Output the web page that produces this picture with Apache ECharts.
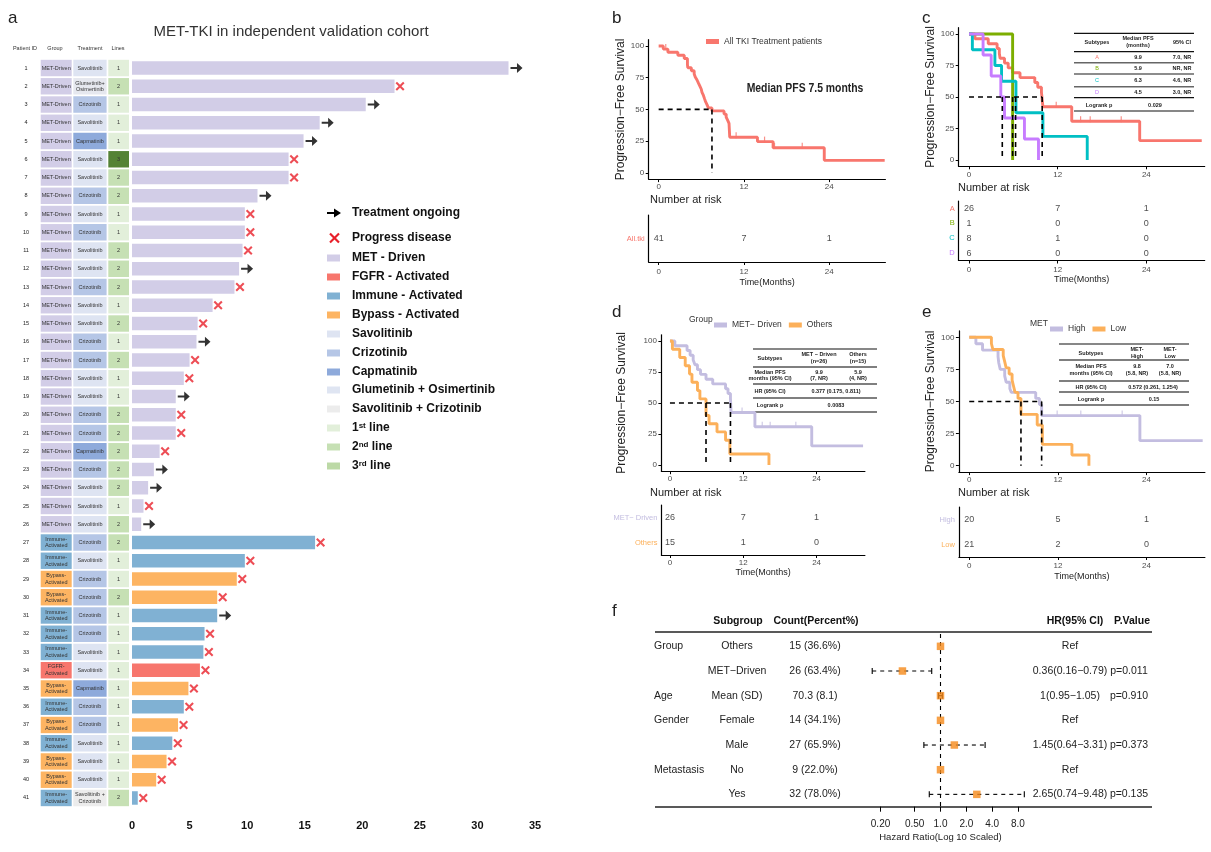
<!DOCTYPE html>
<html><head><meta charset="utf-8">
<script src="https://cdn.jsdelivr.net/npm/echarts@6/dist/echarts.min.js"></script>
<style>html,body{margin:0;padding:0;background:#fff}#c{width:1211px;height:852px}</style>
</head><body><div id="c"></div>
<script>
const FONT = '"Liberation Sans", Arial, Helvetica, sans-serif';

// ---------- Panel a data ----------
const patientIds = ['1','2','3','4','5','6','7','8','9','10','11','12','13','14','15','16','17','18','19','20','21','22','23','24','25','26','27','28','29','30','31','32','33','34','35','36','37','38','39','40','41'];
const pfsMonths = [32.7,22.8,20.3,16.3,14.9,13.6,13.6,10.9,9.8,9.8,9.6,9.3,8.9,7.0,5.7,5.6,5.0,4.5,3.8,3.8,3.8,2.4,1.9,1.4,1.0,0.8,15.9,9.8,9.1,7.4,7.4,6.3,6.2,5.9,4.9,4.5,4.0,3.5,3.0,2.1,0.5];
const outcome = ['O','P','O','O','O','P','P','O','P','P','P','O','P','P','P','O','P','P','O','P','P','P','O','O','P','O','P','P','P','P','O','P','P','P','P','P','P','P','P','P','P'];
const groups = ['MET-Driven','MET-Driven','MET-Driven','MET-Driven','MET-Driven','MET-Driven','MET-Driven','MET-Driven','MET-Driven','MET-Driven','MET-Driven','MET-Driven','MET-Driven','MET-Driven','MET-Driven','MET-Driven','MET-Driven','MET-Driven','MET-Driven','MET-Driven','MET-Driven','MET-Driven','MET-Driven','MET-Driven','MET-Driven','MET-Driven',
 'Immune-Activated','Immune-Activated','Bypass-Activated','Bypass-Activated','Immune-Activated','Immune-Activated','Immune-Activated','FGFR-Activated','Bypass-Activated','Immune-Activated','Bypass-Activated','Immune-Activated','Bypass-Activated','Bypass-Activated','Immune-Activated'];
const treatments = ['Savolitinib','Glumetinib + Osimertinib','Crizotinib','Savolitinib','Capmatinib','Savolitinib','Savolitinib','Crizotinib','Savolitinib','Crizotinib','Savolitinib','Savolitinib','Crizotinib','Savolitinib','Savolitinib','Crizotinib','Crizotinib','Savolitinib','Savolitinib','Crizotinib','Crizotinib','Capmatinib','Crizotinib','Savolitinib','Savolitinib','Savolitinib',
 'Crizotinib','Savolitinib','Crizotinib','Crizotinib','Crizotinib','Crizotinib','Savolitinib','Savolitinib','Capmatinib','Crizotinib','Crizotinib','Savolitinib','Savolitinib','Savolitinib','Savolitinib + Crizotinib'];
const lines = [1,2,1,1,1,3,2,2,1,1,2,2,2,1,2,1,2,1,1,2,2,2,2,2,1,2,2,1,1,2,1,1,1,1,1,1,1,1,1,1,2];
const aTicks = [0,35,5];

const groupColor = {'MET-Driven':'#d2cde7','FGFR-Activated':'#f7766d','Immune-Activated':'#80b1d3','Bypass-Activated':'#fdb462'};
const groupLabel = {'MET-Driven':'MET-Driven','FGFR-Activated':'FGFR-\nActivated','Immune-Activated':'Immune-\nActivated','Bypass-Activated':'Bypass-\nActivated'};
const treatColor = {'Savolitinib':'#dee4f2','Crizotinib':'#b5c6e6','Capmatinib':'#8eaadb','Glumetinib + Osimertinib':'#e6e8ef','Savolitinib + Crizotinib':'#ececec'};
const treatLabel = {'Glumetinib + Osimertinib':'Glumetinib+\nOsimertinib','Savolitinib + Crizotinib':'Savolitinib +\nCrizotinib'};
const lineColor = {1:'#e2efda',2:'#c6e0b4',3:'#548235'};

// ---------- KM data (time, survival %) ----------
const kmAll = [[0,100],[0.65,97.6],[1.3,95.1],[2.7,92.7],[3.6,90.2],[4.05,85.4],[4.1,82.9],[4.6,80.5],[5.0,78.0],[5.15,75.6],[5.4,73.2],[5.6,70.7],[5.8,68.3],[6.0,65.9],[6.1,63.4],[6.3,61.0],[6.45,58.5],[6.6,56.1],[6.8,53.7],[7.0,51.2],[7.5,48.8],[9.2,46.3],[9.5,43.9],[9.7,41.5],[9.9,39.0],[10.0,28.0],[13.9,24.6],[16.1,19.7],[23.3,9.8],[31.8,9.8]];
const kmAllCensor = [[1.0,97.6],[10.9,28.0],[14.9,24.6],[16.3,19.7],[20.2,19.7]];
const kmA = [[0,100],[0.8,96.2],[2.6,92.3],[3.8,88.5],[4.1,84.6],[4.2,80.8],[4.8,76.9],[5.3,73.1],[5.9,69.2],[6.9,65.4],[8.9,61.5],[9.3,57.7],[9.8,53.8],[10.0,42.3],[13.9,30.8],[23.1,15.4],[31.5,15.4]];
const kmB = [[0,100],[5.9,0]];
const kmC = [[0,100],[0.45,87.5],[3.5,75],[4.4,62.5],[6.35,37.5],[10.0,18.75],[16.0,0]];
const kmD = [[0,100],[1.9,83.3],[3.0,66.7],[4.3,50],[4.8,33.3],[7.5,16.7],[9.4,0]];
const kmACensor = [[11.8,42.3],[15.1,30.8],[16.4,30.8],[20.6,30.8]];
const kmMet = [[0,100],[0.8,96.2],[2.8,92.3],[3.3,88.5],[3.8,84.6],[4.1,80.8],[4.5,76.9],[5.0,73.1],[5.9,69.2],[7.0,65.4],[9.1,61.5],[9.5,57.7],[9.9,53.8],[10.0,42.3],[13.9,30.8],[23.2,15.4],[31.6,15.4]];
const kmOthers = [[0,100],[0.4,93.3],[1.6,86.7],[2.5,80],[3.2,73.3],[3.6,66.7],[4.5,60],[4.9,53.3],[5.9,40],[6.4,33.3],[7.7,26.7],[9.1,20],[9.8,8.9],[16.2,0]];
const kmHigh = [[0,100],[0.9,95],[1.8,90],[3.9,85],[4.0,80],[4.2,75],[4.8,70],[5.0,65],[5.5,60],[5.7,57.1],[9.0,52.4],[9.5,47.6],[9.8,39.0],[23.1,19.5],[31.6,19.5]];
const kmHighCensor = [[11.9,39],[15.1,39],[20.7,39]];
const kmLow = [[0,100],[3.0,95.2],[3.2,90.5],[4.6,85.7],[4.8,81],[5.0,76.2],[5.4,71.4],[5.8,66.7],[6.0,61.9],[6.2,57.1],[6.6,52.4],[7.0,40.0],[9.2,31.7],[9.9,16.6],[13.9,8.3],[16.2,0]];
const medB = [7.5], medC = [4.5,5.9,6.3,9.9], medD = [5.9,9.9], medE = [7.0,9.8];
const kmXTicks = [0,12,24];
const kmYTicks = [0,25,50,75,100];

// risk tables
const riskTimes = [0,12,24];
const riskRowsB = ['All.tki'];   const riskB = [[41,7,1]];
const riskRowsC = ['A','B','C','D']; const riskC = [[26,7,1],[1,0,0],[8,1,0],[6,0,0]];
const riskRowsD = ['MET\u2212 Driven','Others']; const riskD = [[26,7,1],[15,1,0]];
const riskRowsE = ['High','Low']; const riskE = [[20,5,1],[21,2,0]];

// ---------- forest (panel f) ----------
const fGroup = ['Group','','Age','Gender','','Metastasis',''];
const fSubgroup = ['Others','MET\u2212Driven','Mean (SD)','Female','Male','No','Yes'];
const fCount = ['15 (36.6%)','26 (63.4%)','70.3 (8.1)','14 (34.1%)','27 (65.9%)','9 (22.0%)','32 (78.0%)'];
const fHr = [1,0.36,1,1,1.45,1,2.65];
const fLo = [null,0.16,0.95,null,0.64,null,0.74];
const fHi = [null,0.79,1.05,null,3.31,null,9.48];
const fHrText = ['Ref','0.36(0.16\u22120.79)','1(0.95\u22121.05)','Ref','1.45(0.64\u22123.31)','Ref','2.65(0.74\u22129.48)'];
const fP = ['','p=0.011','p=0.910','','p=0.373','','p=0.135'];
const fTicks = [0.2,0.5,1,2,4,8];

// ---------- colours ----------
const RED='#f8766d', GREEN='#7cae00', CYAN='#00bfc4', PURPLE='#c77cff', LAV='#c3bde0', ORG='#fcb05a';

const chart = echarts.init(document.getElementById('c'), null, {renderer:'canvas'});
const XMIN=-1.4, XMAX=31.9;

const grids = [
 {left:132, top:58.9, width:403, height:748.2},
 {left:648.7, top:39.7, width:236.7, height:139.4},
 {left:648.7, top:215, width:236.7, height:47},
 {left:958.7, top:27.7, width:246, height:138.6},
 {left:958.7, top:201, width:246, height:59.5},
 {left:661.4, top:334.8, width:203.5, height:136.4},
 {left:661.4, top:505, width:203.5, height:50},
 {left:958.9, top:330.9, width:246, height:141.2},
 {left:958.9, top:507, width:246, height:50},
 {left:854.7, top:634, width:171.6, height:172.7}
];

const axLine = {show:true, onZero:false, lineStyle:{color:'#000', width:1.2}};
function kmX(g, margin){ return {gridIndex:g, type:'value', min:XMIN, max:XMAX, axisLine:axLine,
  axisTick:{show:true, length:3, lineStyle:{color:'#000'}, customValues:kmXTicks},
  axisLabel:{customValues:kmXTicks, fontSize:8, color:'#4d4d4d', margin:margin, fontFamily:FONT}, splitLine:{show:false}}; }
function kmY(g, gap){ return {gridIndex:g, type:'value', min:-5, max:105, axisLine:axLine,
  axisTick:{show:true, length:3, lineStyle:{color:'#000'}, customValues:kmYTicks},
  axisLabel:{customValues:kmYTicks, fontSize:8, color:'#4d4d4d', margin:4.5, fontFamily:FONT}, splitLine:{show:false},
  name:'Progression\u2212Free Survival', nameLocation:'middle', nameGap:gap, nameTextStyle:{fontSize:12, color:'#222', fontFamily:FONT}}; }
function riskX(g, margin, gap){ const a = kmX(g, margin); a.name='Time(Months)'; a.nameLocation='middle'; a.nameGap=gap; a.nameTextStyle={fontSize:9, color:'#222', fontFamily:FONT}; return a; }
function riskY(g, rows, colors){ return {gridIndex:g, type:'category', data:rows, inverse:true, axisLine:axLine, axisTick:{show:false},
  axisLabel:{fontSize:7.5, margin:4, fontFamily:FONT, color:(v,i)=>colors[i]}}; }

const xAxes = [
 {gridIndex:0, type:'value', min:aTicks[0], max:aTicks[1], interval:aTicks[2], axisLine:{show:false}, axisTick:{show:false}, splitLine:{show:false},
  axisLabel:{fontSize:11, fontWeight:'bold', color:'#111', margin:13, fontFamily:FONT}},
 kmX(1,4), riskX(2,6,16.5), kmX(3,4), riskX(4,5.5,13), kmX(5,4), riskX(6,4,13), kmX(7,4), riskX(8,5,15),
 {gridIndex:9, type:'log', logBase:10, min:0.1, max:10, axisLine:{show:false},
  axisTick:{show:true, length:5, lineStyle:{color:'#000'}, customValues:fTicks},
  axisLabel:{customValues:fTicks, formatter:v=> v<1 ? Number(v).toFixed(2) : Number(v).toFixed(1), fontSize:10, color:'#222', margin:13, fontFamily:FONT},
  splitLine:{show:false}, name:'Hazard Ratio(Log 10 Scaled)', nameLocation:'middle', nameGap:26, nameTextStyle:{fontSize:9.5, color:'#222', fontFamily:FONT}}
];
const yAxes = [
 {gridIndex:0, type:'category', data:patientIds, inverse:true, show:false},
 kmY(1,22), riskY(2,riskRowsB,[RED]), kmY(3,22), riskY(4,riskRowsC,[RED,GREEN,CYAN,PURPLE]),
 kmY(5,34), riskY(6,riskRowsD,[LAV,ORG]), kmY(7,22), riskY(8,riskRowsE,[LAV,ORG]),
 {gridIndex:9, type:'category', data:fSubgroup, inverse:true, show:false}
];

const ARROW = 'path://M0,4L7,4L7,0L13,5L7,10L7,6L0,6Z';
const CROSS = 'path://M0,1.6L1.6,0L5,3.4L8.4,0L10,1.6L6.6,5L10,8.4L8.4,10L5,6.6L1.6,10L0,8.4L3.4,5Z';

const series = [];
// panel a table cells
series.push({type:'custom', xAxisIndex:0, yAxisIndex:0, silent:true, clip:false,
 data: patientIds.map((id,i)=>[0,i]),
 renderItem(params, api){
  const i = params.dataIndex;
  const pt = api.coord([0, api.value(1)]);
  const x0 = pt[0], cy = pt[1];
  const h = api.size([0,1])[1]*0.9;
  const ch = [];
  const tx = (text,x,fill)=>({type:'text', style:{text, x, y:cy, align:'center', verticalAlign:'middle', fontSize:5.5, lineHeight:6.5, fill:fill||'#333', fontFamily:FONT}});
  const cell = (x,w,fill,text)=>{ ch.push({type:'rect', shape:{x:x0+x, y:cy-h/2, width:w, height:h}, style:{fill}}); ch.push(tx(text, x0+x+w/2)); };
  ch.push(tx(patientIds[i], x0-106, '#222'));
  cell(-91.3, 31, groupColor[groups[i]], groupLabel[groups[i]]);
  cell(-58.7, 33.3, treatColor[treatments[i]], treatLabel[treatments[i]] || treatments[i]);
  cell(-23.7, 20.7, lineColor[lines[i]], String(lines[i]));
  return {type:'group', children:ch};
 }});
series.push({type:'bar', xAxisIndex:0, yAxisIndex:0, barWidth:13.5, silent:true,
 data: pfsMonths.map((v,i)=>({value:v, itemStyle:{color:groupColor[groups[i]]}}))});
series.push({type:'scatter', xAxisIndex:0, yAxisIndex:0, silent:true, symbol:ARROW, symbolSize:[12,10], symbolOffset:[8,0], itemStyle:{color:'#000'},
 data: pfsMonths.map((v,i)=>[v,i,outcome[i]]).filter(d=>d[2]==='O')});
series.push({type:'scatter', xAxisIndex:0, yAxisIndex:0, silent:true, symbol:CROSS, symbolSize:[9,9], symbolOffset:[5.5,0], itemStyle:{color:'#e8202a'},
 data: pfsMonths.map((v,i)=>[v,i,outcome[i]]).filter(d=>d[2]==='P')});

function km(name, data, color, xi){ return {name, type:'line', xAxisIndex:xi, yAxisIndex:xi, step:'end', data, showSymbol:false, symbol:'none',
  lineStyle:{color, width:2.9}, itemStyle:{color}, silent:true, z:3, animation:false}; }
function censor(data, color, xi){ return {type:'scatter', xAxisIndex:xi, yAxisIndex:xi, data, symbol:'rect', symbolSize:[1.2,6], symbolOffset:[0,-2], itemStyle:{color}, silent:true, z:3}; }
function medians(xi, meds){ const dash = {color:'#000', width:1.6, type:[5,4]};
  const out = [{type:'line', xAxisIndex:xi, yAxisIndex:xi, data:[[0,50],[Math.max(...meds),50]], symbol:'none', lineStyle:dash, silent:true, z:4}];
  meds.forEach(m=>out.push({type:'line', xAxisIndex:xi, yAxisIndex:xi, data:[[m,50],[m,0]], symbol:'none', lineStyle:dash, silent:true, z:4}));
  return out; }
function risk(xi, rows, counts){ const data=[]; rows.forEach((r,ri)=>riskTimes.forEach((t,ti)=>data.push([t,r,counts[ri][ti]])));
  return {type:'scatter', xAxisIndex:xi, yAxisIndex:xi, data, symbolSize:1, itemStyle:{color:'rgba(0,0,0,0)'}, silent:true,
   label:{show:true, position:'inside', formatter:p=>String(p.value[2]), fontSize:9, color:'#222', fontFamily:FONT}}; }

// b
series.push(km('All TKI Treatment patients', kmAll, RED, 1), censor(kmAllCensor, RED, 1), ...medians(1, medB), risk(2, riskRowsB, riskB));
// c
series.push(km('A', kmA, RED, 3), km('B', kmB, GREEN, 3), km('C', kmC, CYAN, 3), km('D', kmD, PURPLE, 3), censor(kmACensor, RED, 3), ...medians(3, medC), risk(4, riskRowsC, riskC));
// d
series.push(km('MET\u2212 Driven', kmMet, LAV, 5), km('Others', kmOthers, ORG, 5), censor(kmACensor, LAV, 5), ...medians(5, medD), risk(6, riskRowsD, riskD));
// e
series.push(km('High', kmHigh, LAV, 7), km('Low', kmLow, ORG, 7), censor(kmHighCensor, LAV, 7), ...medians(7, medE), risk(8, riskRowsE, riskE));

// f forest
series.push({type:'custom', xAxisIndex:9, yAxisIndex:9, silent:true, clip:false,
 data: fSubgroup.map((s,i)=>[1,i]),
 renderItem(params, api){
  const i = params.dataIndex; const y = api.coord([1, api.value(1)])[1];
  const t = (text,x,align)=>({type:'text', style:{text, x, y, align, verticalAlign:'middle', fontSize:10.5, fill:'#222', fontFamily:FONT}});
  return {type:'group', children:[t(fGroup[i],654,'left'), t(fSubgroup[i],737,'center'), t(fCount[i],815,'center'), t(fHrText[i],1070,'center'), t(fP[i],1129,'center')]};
 }});
series.push({type:'custom', xAxisIndex:9, yAxisIndex:9, silent:true, clip:false, encode:{x:[0,2], y:1},
 data: fHr.map((v,i)=>[fLo[i],i,fHi[i]]).filter(d=>d[0]!==null),
 renderItem(params, api){
  const lo=api.value(0), i=api.value(1), hi=api.value(2);
  const p1=api.coord([lo,i]), p2=api.coord([hi,i]);
  return {type:'group', children:[
   {type:'line', shape:{x1:p1[0],y1:p1[1],x2:p2[0],y2:p2[1]}, style:{stroke:'#000', lineWidth:1.1, lineDash:[4,4]}},
   {type:'line', shape:{x1:p1[0],y1:p1[1]-3,x2:p1[0],y2:p1[1]+3}, style:{stroke:'#000', lineWidth:1.1}},
   {type:'line', shape:{x1:p2[0],y1:p2[1]-3,x2:p2[0],y2:p2[1]+3}, style:{stroke:'#000', lineWidth:1.1}}]};
 }});
series.push({type:'scatter', xAxisIndex:9, yAxisIndex:9, silent:true, symbol:'rect', symbolSize:7.5, itemStyle:{color:'#f5891a'}, z:5,
 data: fHr.map((v,i)=>[v,i]),
 markLine:{silent:true, symbol:'none', data:[{xAxis:1}], label:{show:false}, lineStyle:{type:[4,4], color:'#000', width:1.1}}});

// ---------- graphic texts / tables ----------
const G = [];
function txt(x,y,text,o,extra){ G.push(Object.assign({type:'text', x, y, silent:true, style:Object.assign({text, fontFamily:FONT, fontSize:10, fill:'#222', align:'left', verticalAlign:'middle'}, o||{})}, extra||{})); }
function ln(x1,y1,x2,y2,stroke,w){ G.push({type:'line', silent:true, shape:{x1,y1,x2,y2}, style:{stroke:stroke||'#000', lineWidth:w||1}}); }
function rc(x,y,w,h,fill){ G.push({type:'rect', silent:true, shape:{x,y,width:w,height:h}, style:{fill}}); }

txt(8,18,'a',{fontSize:17}); txt(612,18,'b',{fontSize:17}); txt(922,18,'c',{fontSize:17});
txt(612,312,'d',{fontSize:17}); txt(922,312,'e',{fontSize:17}); txt(612,611,'f',{fontSize:17});
txt(291,32,'MET-TKI in independent validation cohort',{fontSize:15, align:'center', fill:'#333'});
[['Patient ID',25],['Group',55],['Treatment',90],['Lines',118]].forEach(h=>txt(h[1],48,h[0],{fontSize:5.5, align:'center', fill:'#333'}));

// legend a
G.push({type:'polygon', silent:true, shape:{points:[[327,212],[334,212],[334,208.5],[341,213],[334,217.5],[334,214],[327,214]]}, style:{fill:'#000'}});
ln(330,233.5,339,242.5,'#e8202a',2.2); ln(339,233.5,330,242.5,'#e8202a',2.2);
const legA = [['Treatment ongoing',213,null],['Progress disease',238,null],['MET - Driven',258,'#d2cde7'],['FGFR - Activated',277,'#f7766d'],['Immune - Activated',296,'#80b1d3'],['Bypass - Activated',315,'#fdb462'],
 ['Savolitinib',334,'#dee4f2'],['Crizotinib',353,'#b5c6e6'],['Capmatinib',372,'#8eaadb'],['Glumetinib + Osimertinib',390,'#dfe5f2'],['Savolitinib + Crizotinib',409,'#ececec']];
legA.forEach(l=>{ if(l[2]) rc(327,l[1]-3.5,13,7,l[2]); txt(352,l[1],l[0],{fontSize:12, fontWeight:'bold', fill:'#111'}); });
const richLeg = {a:{fontSize:12, fontWeight:'bold', fill:'#111', fontFamily:FONT}, s:{fontSize:8, fontWeight:'bold', fill:'#111', fontFamily:FONT, verticalAlign:'top'}};
[['1','st',428,'#e2efda'],['2','nd',447,'#c6e0b4'],['3','rd',466,'#bcd9a6']].forEach(l=>{ rc(327,l[2]-3.5,13,7,l[3]);
  G.push({type:'text', x:352, y:l[2], silent:true, style:{text:'{a|'+l[0]+'}{s|'+l[1]+'}{a| line}', rich:richLeg, verticalAlign:'middle', align:'left'}}); });

// b
txt(805,88,'Median PFS 7.5 months',{fontSize:13, fontWeight:'bold', align:'center', fill:'#222'},{scaleX:0.8});
txt(650,200,'Number at risk',{fontSize:11});
txt(958,188,'Number at risk',{fontSize:11});
txt(650,493,'Number at risk',{fontSize:11});
txt(958,493,'Number at risk',{fontSize:11});
txt(689,320,'Group',{fontSize:8.5, fill:'#333'});
txt(1030,324,'MET',{fontSize:8.5, fill:'#333'});

const TS = {fontSize:5.5, fontWeight:'bold', align:'center', fill:'#222', lineHeight:6.5};
// table c
[33.3,51.7,97.7,111].forEach(y=>ln(1074,y,1194,y,'#111',1.2));
[62.7,74,86.7].forEach(y=>ln(1074,y,1194,y,'#666',1.6));
const cHead = ['Subtypes','Median PFS\n(months)','95% CI'];
const cSub = ['A','B','C','D'], cMed = ['9.9','5.9','6.3','4.5'], cCI = ['7.0, NR','NR, NR','4.6, NR','3.0, NR'];
const cRowY = [57,68.3,80.7,92.3], cColX = [1097,1138,1182];
cHead.forEach((h,k)=>txt(cColX[k],42,h,TS));
cSub.forEach((s,k)=>{ txt(cColX[0],cRowY[k],s,Object.assign({},TS,{fill:[RED,GREEN,CYAN,PURPLE][k], fontWeight:'normal'})); txt(cColX[1],cRowY[k],cMed[k],TS); txt(cColX[2],cRowY[k],cCI[k],TS); });
txt(1099,105,'Logrank p',TS); txt(1155,105,'0.029',TS);

// table d
ln(753,349,877,349,'#111',1.2); [367,384,398,412].forEach(y=>ln(753,y,877,y,'#555',1.5));
txt(770,358,'Subtypes',TS); txt(819,358,'MET \u2212 Driven\n(n=26)',TS); txt(858,358,'Others\n(n=15)',TS);
txt(770,375.5,'Median PFS\nmonths (95% CI)',TS); txt(819,375.5,'9.9\n(7, NR)',TS); txt(858,375.5,'5.9\n(4, NR)',TS);
txt(770,391,'HR (95% CI)',TS); txt(836,391,'0.377 (0.175, 0.811)',TS);
txt(770,405,'Logrank p',TS); txt(836,405,'0.0083',TS);

// table e
ln(1059,344,1189,344,'#111',1.2); [360,381,392,405].forEach(y=>ln(1059,y,1189,y,'#555',1.5));
txt(1091,353,'Subtypes',TS); txt(1137,353,'MET-\nHigh',TS); txt(1170,353,'MET-\nLow',TS);
txt(1091,370,'Median PFS\nmonths (95% CI)',TS); txt(1137,370,'9.8\n(5.8, NR)',TS); txt(1170,370,'7.0\n(5.8, NR)',TS);
txt(1091,387,'HR (95% CI)',TS); txt(1153,387,'0.572 (0.261, 1.254)',TS);
txt(1091,399,'Logrank p',TS); txt(1154,399,'0.15',TS);

// forest header and rules
const FH = {fontSize:10.5, fontWeight:'bold', align:'center', fill:'#111'};
txt(738,621,'Subgroup',FH); txt(816,621,'Count(Percent%)',FH); txt(1075,621,'HR(95% CI)',FH); txt(1132,621,'P.Value',FH);
ln(655,632,1152,632,'#222',1.3); ln(655,807,1152,807,'#222',1.3);

const legStyle = {icon:'rect', itemWidth:13, itemHeight:5, itemGap:7, selectedMode:false, textStyle:{fontSize:8.5, color:'#333', fontFamily:FONT}};
chart.setOption({
 animation:false, backgroundColor:'#fff', textStyle:{fontFamily:FONT},
 grid:grids, xAxis:xAxes, yAxis:yAxes, series,
 legend:[Object.assign({data:['All TKI Treatment patients'], left:701, top:32}, legStyle),
         Object.assign({data:['MET\u2212 Driven','Others'], left:709, top:315.5}, legStyle),
         Object.assign({data:['High','Low'], left:1045, top:319.5}, legStyle)],
 graphic:G
});
</script></body></html>
